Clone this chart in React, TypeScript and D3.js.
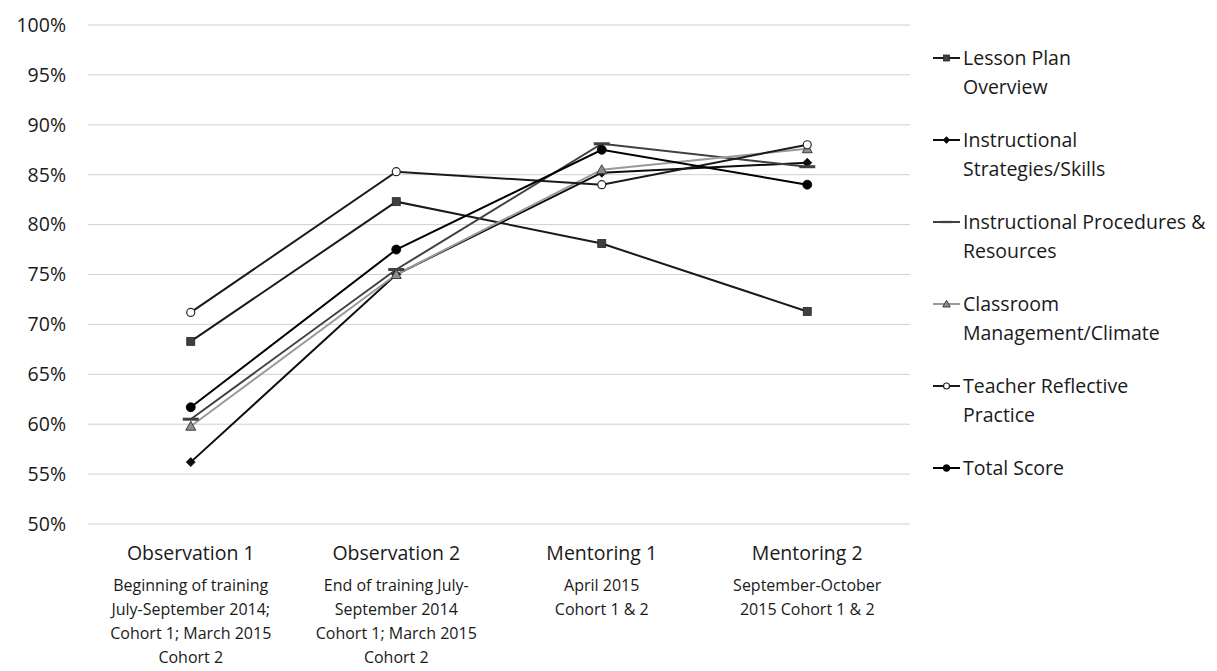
import React from "react";
import * as d3 from "d3";

// Observation / mentoring time points
const categories = ["Observation 1", "Observation 2", "Mentoring 1", "Mentoring 2"];
const categoryNotes = [
  ["Beginning of training", "July-September 2014;", "Cohort 1; March 2015", "Cohort 2"],
  ["End of training July-", "September 2014", "Cohort 1; March 2015", "Cohort 2"],
  ["April 2015", "Cohort 1 & 2"],
  ["September-October", "2015 Cohort 1 & 2"],
];

// Mean scores (%) per rubric domain
const lessonPlan = [68.3, 82.3, 78.1, 71.3];
const instrStrategies = [56.2, 75.0, 85.2, 86.2];
const instrProcedures = [60.5, 75.5, 88.1, 85.8];
const classroomMgmt = [59.8, 75.0, 85.5, 87.6];
const teacherReflective = [71.2, 85.3, 84.0, 88.0];
const totalScore = [61.7, 77.5, 87.5, 84.0];

const yTicks = [50, 55, 60, 65, 70, 75, 80, 85, 90, 95, 100];

type Marker = "square" | "diamond" | "dash" | "triangle" | "openCircle" | "circle";

const series: { name: string[]; values: number[]; line: string; marker: Marker; fill: string; stroke: string }[] = [
  { name: ["Lesson Plan", "Overview"], values: lessonPlan, line: "#1a1a1a", marker: "square", fill: "#3f3f3f", stroke: "#262626" },
  { name: ["Instructional", "Strategies/Skills"], values: instrStrategies, line: "#0d0d0d", marker: "diamond", fill: "#0d0d0d", stroke: "#0d0d0d" },
  { name: ["Instructional Procedures &", "Resources"], values: instrProcedures, line: "#404040", marker: "dash", fill: "#404040", stroke: "#404040" },
  { name: ["Classroom", "Management/Climate"], values: classroomMgmt, line: "#9a9a9a", marker: "triangle", fill: "#8c8c8c", stroke: "#404040" },
  { name: ["Teacher Reflective", "Practice"], values: teacherReflective, line: "#1a1a1a", marker: "openCircle", fill: "#ffffff", stroke: "#262626" },
  { name: ["Total Score"], values: totalScore, line: "#000000", marker: "circle", fill: "#000000", stroke: "#000000" },
];

const W = 1217;
const H = 671;
const plot = { left: 88, right: 910, top: 25, bottom: 524 };
const FONT = "'Open Sans', sans-serif";
const TEXT = "#1a1a1a";

function MarkerShape({ kind, x, y, fill, stroke, scale = 1 }: { kind: Marker; x: number; y: number; fill: string; stroke: string; scale?: number }) {
  const s = scale;
  switch (kind) {
    case "square":
      return <rect x={x - 4 * s} y={y - 4 * s} width={8 * s} height={8 * s} fill={fill} stroke={stroke} strokeWidth={0.8} />;
    case "diamond":
      return <path d={`M${x},${y - 4.5 * s}L${x + 4.5 * s},${y}L${x},${y + 4.5 * s}L${x - 4.5 * s},${y}Z`} fill={fill} stroke={stroke} strokeWidth={0.8} />;
    case "dash":
      return <rect x={x - 8 * s} y={y - 1.5 * s} width={16 * s} height={3 * s} fill={fill} />;
    case "triangle":
      return <path d={`M${x},${y - 5 * s}L${x + 5 * s},${y + 4 * s}L${x - 5 * s},${y + 4 * s}Z`} fill={fill} stroke={stroke} strokeWidth={1} />;
    case "openCircle":
      return <circle cx={x} cy={y} r={4 * s} fill={fill} stroke={stroke} strokeWidth={1.2} />;
    case "circle":
      return <circle cx={x} cy={y} r={4.5 * s} fill={fill} stroke={stroke} strokeWidth={0.8} />;
  }
}

export default function App() {
  const x = d3.scaleBand<string>().domain(categories).range([plot.left, plot.right]);
  const y = d3.scaleLinear().domain([50, 100]).range([plot.bottom, plot.top]);
  const cx = (c: string) => (x(c) ?? 0) + x.bandwidth() / 2;
  const line = d3
    .line<number>()
    .x((_, i) => cx(categories[i]))
    .y((v) => y(v));

  const legendX = 933;
  const legendTop = 58;
  const legendStep = 82;
  const legendLine = 29;

  return (
    <svg width={W} height={H} style={{ position: "absolute", left: 0, top: 0, background: "#fff" }} fontFamily={FONT}>
      <rect x={0} y={0} width={W} height={H} fill="#fff" />
      {yTicks.map((t) => (
        <g key={t}>
          <line x1={plot.left} x2={plot.right} y1={y(t)} y2={y(t)} stroke="#d0d0d0" strokeWidth={1} />
          <text x={66} y={y(t)} dy="0.35em" textAnchor="end" fontSize={19.5} fill={TEXT}>
            {t}%
          </text>
        </g>
      ))}

      {categories.map((c, i) => (
        <g key={c}>
          <text x={cx(c)} y={553} dy="0.35em" textAnchor="middle" fontSize={19.5} fill={TEXT}>
            {c}
          </text>
          {categoryNotes[i].map((n, j) => (
            <text key={j} x={cx(c)} y={585 + j * 24} dy="0.35em" textAnchor="middle" fontSize={16} fill={TEXT}>
              {n}
            </text>
          ))}
        </g>
      ))}

      {series.map((s) => (
        <path key={s.name.join(" ")} d={line(s.values) ?? ""} fill="none" stroke={s.line} strokeWidth={2} />
      ))}
      {series.map((s) =>
        s.values.map((v, i) => (
          <MarkerShape key={s.name.join(" ") + i} kind={s.marker} x={cx(categories[i])} y={y(v)} fill={s.fill} stroke={s.stroke} />
        ))
      )}

      {series.map((s, k) => {
        const ly = legendTop + k * legendStep;
        return (
          <g key={"lg" + k}>
            <line x1={legendX} x2={legendX + 27} y1={ly} y2={ly} stroke={s.line} strokeWidth={2} />
            <MarkerShape kind={s.marker} x={legendX + 13.5} y={ly} fill={s.fill} stroke={s.stroke} scale={0.75} />
            {s.name.map((n, j) => (
              <text key={j} x={legendX + 30} y={ly + j * legendLine} dy="0.35em" fontSize={19.5} fill={TEXT}>
                {n}
              </text>
            ))}
          </g>
        );
      })}
    </svg>
  );
}
